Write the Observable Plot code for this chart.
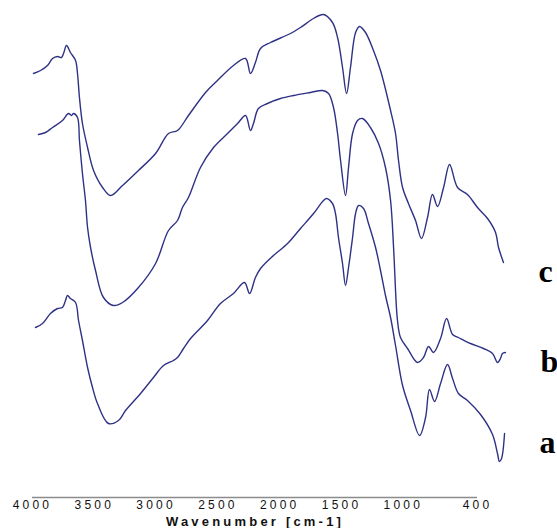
<!DOCTYPE html>
<html><head><meta charset="utf-8">
<script src="https://cdn.jsdelivr.net/npm/d3@7"></script>
<script src="https://cdn.jsdelivr.net/npm/@observablehq/plot@0.6"></script>
<style>
html,body{margin:0;padding:0;background:#fff;}
#chart{position:relative;width:557px;height:528px;}
#chart svg{position:absolute;left:0;top:0;background:transparent;}
</style></head><body><div id="chart"></div>
<script>
// Axis tick labels (wavenumber, cm-1)
const wavenumberTicks = [4000, 3500, 3000, 2500, 2000, 1500, 1000, 400];
const xTitle = "Wavenumber [cm-1]";
const seriesNames = ["a", "b", "c"];

// Spectrum c (top)
const waveC = [4000,3946,3893,3854,3816,3786,3770,3747,3717,3678,3663,3648,3625,3586,3540,3471,3410,3318,3196,3065,2966,2897,2813,2682,2591,2468,2376,2338,2300,2261,2185,2031,1955,1855,1779,1710,1671,1633,1602,1572,1533,1503,1457,1396,1342,1265,1227,1204,1173,1128,1074,1028,982,944,905,859,813,752,676,599,522,461,438,400];
const transC = [85.4,86,87,88.4,88.8,88.6,89.4,91,89.6,88,85.4,80.6,75.4,70.6,66,62.6,61,63,66,69.4,73.4,74,77,81.6,84,87,88.4,85.4,87.6,90.4,91.6,93.4,94.6,96.4,97.2,95.6,92.6,86.6,81.4,86.6,93.6,94.8,93.6,90,86,78,73.4,68,62.6,59.4,56,52.4,56.6,61.2,58.8,62.6,67.2,62.6,61.2,58.6,56.4,53.6,50.6,47.6];

// Spectrum b (middle)
const waveB = [3962,3908,3854,3778,3732,3709,3694,3663,3648,3625,3602,3586,3563,3525,3464,3387,3318,3196,3065,2966,2897,2859,2813,2721,2621,2514,2437,2376,2338,2315,2277,2208,2108,2008,1878,1786,1740,1702,1671,1648,1610,1587,1556,1518,1480,1419,1357,1304,1265,1242,1227,1212,1189,1135,1059,1013,974,936,882,836,790,745,653,553,484,446,423,408,385];
const transB = [73.2,73.6,74.6,76,77.4,77,77.4,76.6,72,65.4,60,54.6,50.6,46,40.6,39,39.6,42.6,47.4,54,56,58.6,60.6,66.6,70.6,73.4,75.4,77,74,75.4,78.4,79.4,80.4,81,81.6,82,81.4,78.6,73.4,68,61,66.6,73.4,76,76.4,74.6,71.4,66.6,60,50.6,42,36,32.6,30.4,27.6,28.6,30.8,29.6,32.4,36.4,33.2,32.6,31.4,30.4,29.4,27.6,28.4,29.4,29.6];

// Spectrum a (bottom)
const waveA = [3985,3931,3870,3816,3778,3755,3740,3717,3678,3655,3625,3586,3548,3510,3426,3349,3295,3180,3081,3004,2928,2897,2851,2797,2667,2568,2468,2384,2345,2300,2261,2162,2054,1955,1855,1779,1756,1710,1687,1664,1633,1610,1587,1556,1533,1510,1472,1434,1380,1342,1304,1265,1227,1173,1112,1043,997,967,928,882,829,790,745,676,576,484,446,431,415,392];
const transA = [34.6,35.4,37.4,38.4,38.6,40,41,40.4,39.6,36,32,26.6,22.6,19.4,15.4,16,18,21.4,24.6,27,28,28.6,30.4,32.4,36,39.4,41.4,43.6,41.4,44.6,46.4,49,51.4,54.4,57.4,60,60.4,59.4,57.4,52.6,47.4,43,46.6,52.6,57.4,59,58.4,55.4,50.6,46,41,36.6,31,23,18,13,16.6,22.2,19.8,23.4,27.2,24.4,21.4,20,17.2,13.2,9.4,7.8,8.4,13.4];

const waves = {a: waveA, b: waveB, c: waveC};
const trans = {a: transA, b: transB, c: transC};
const rows = [];
for (const s of seriesNames) {
  waves[s].forEach((w, i) => rows.push({series: s, wn: w, t: trans[s][i]}));
}

const lineColor = "#2f3185";

const curves = Plot.plot({
  width: 557, height: 528,
  marginLeft: 33, marginRight: 54, marginTop: 0, marginBottom: 28,
  x: {domain: [4000, 400], axis: null},
  y: {domain: [0, 100], axis: null},
  marks: [
    Plot.line(rows, {x: "wn", y: "t", z: "series", stroke: lineColor, strokeWidth: 1.4, strokeLinejoin: "round", curve: "catmull-rom"}),
    Plot.text(rows, Plot.selectLast({
      x: "wn", y: "t", z: "series", text: "series",
      dx: 35, dy: 9, textAnchor: "start",
      fontFamily: "Liberation Serif, Times New Roman, serif", fontWeight: "bold", fontSize: 32, fill: "#000"
    }))
  ]
});

const axis = Plot.plot({
  width: 557, height: 528,
  marginLeft: 32, marginRight: 80, marginTop: 0, marginBottom: 31,
  style: {fontFamily: "Liberation Sans, Arial, sans-serif", letterSpacing: "3.2px", background: "transparent"},
  x: {domain: [4000, 400]},
  y: {domain: [0, 1], axis: null},
  marks: [
    Plot.ruleY([0], {stroke: "#8c8c8c", strokeWidth: 1.5}),
    Plot.axisX({ticks: wavenumberTicks, tickSize: 0, tickPadding: 3, tickFormat: d => String(d), fontSize: 12, fill: "#111", label: null}),
    Plot.text([xTitle], {frameAnchor: "bottom", dy: 24, text: d => d, fontSize: 13, fontWeight: "bold", fill: "#111", lineAnchor: "middle"})
  ]
});

const root = document.getElementById("chart");
root.appendChild(curves);
root.appendChild(axis);
</script>
</body></html>
